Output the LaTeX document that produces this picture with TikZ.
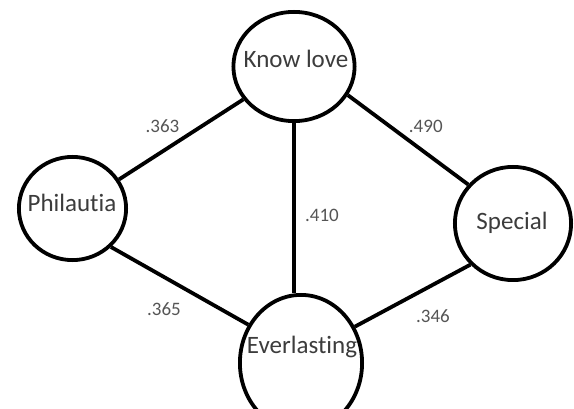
\documentclass[tikz,border=0pt]{standalone}
\usepackage{fontspec}
\setmainfont{Carlito}[Ligatures=NoCommon]
\usetikzlibrary{shapes.geometric}
\definecolor{nodetext}{HTML}{3C3C3C}
\definecolor{weighttext}{HTML}{555555}
\begin{document}
\begin{tikzpicture}[x=1pt,y=-1pt,
  bubble/.style={ellipse, draw=black, line width=3.8pt, inner sep=0pt},
  link/.style={line width=3.8pt},
  lbl/.style={anchor=base, text=nodetext, font=\fontsize{25}{30}\selectfont, inner sep=0pt},
  wt/.style={anchor=base, text=weighttext, font=\fontsize{19}{23}\selectfont, inner sep=0pt}]
\useasboundingbox (0,0) rectangle (574,409);
\clip (0,0) rectangle (574,409);
\fill[white] (0,0) rectangle (574,409);

% the four concepts
\node[bubble, minimum width=121.2pt, minimum height=109.2pt] (know) at (294,66.5) {};
\node[bubble, minimum width=107.2pt, minimum height=103.2pt] (phil) at (72.5,208.5) {};
\node[bubble, minimum width=116.2pt, minimum height=113.2pt] (spec) at (513,223.5) {};
\node[bubble, minimum width=122.2pt, minimum height=136.2pt] (ever) at (301,363) {};

\node[lbl] (t-know) at (296,68) {Know love};
\node[lbl] (t-phil) at (72,212) {Philautia};
\node[lbl] (t-spec) at (512,230) {Special};
\node[lbl] (t-ever) at (302,353) {Everlasting};

% links between concepts
\draw[link] (know.213.3) -- (phil.32.6);
\draw[link] (know.-28.5) -- (spec.139.7);
\draw[link] (phil.-45) -- (ever.144.9);
\draw[link] (ever.34.2) -- (spec.-136);
\draw[link] (know.south) -- (know.south |- ever.north);

% link weights
\node[wt] (w-kp) at (162.5,133) {.363};
\node[wt] (w-ks) at (425.8,132.7) {.490};
\node[wt] (w-pe) at (164,316) {.365};
\node[wt] (w-es) at (433,323) {.346};
\node[wt] (w-ke) at (322,221.7) {.410};
\end{tikzpicture}
\end{document}
